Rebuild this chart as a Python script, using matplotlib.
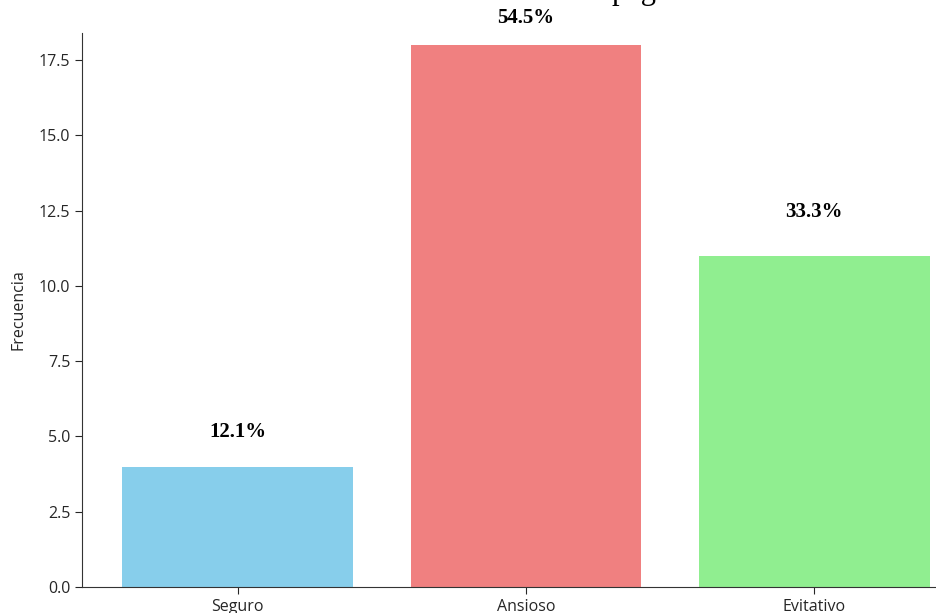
import matplotlib
matplotlib.use("Agg")
import matplotlib.pyplot as plt

categories = ["Seguro", "Ansioso", "Evitativo"]
frequencies = [4, 18, 11]
percent_labels = ["12.1%", "54.5%", "33.3%"]
label_offsets = [1.15, 0.9, 1.45]
colors = ["#87CEEB", "#F08080", "#90EE90"]
yticks = [0, 2.5, 5, 7.5, 10, 12.5, 15, 17.5]
title = "Gráfico de Estilo de apego"

W, H = 936, 613
fig = plt.figure(figsize=(W / 100, H / 100), dpi=100)
left, right, bottom, top = 82, 970, 587, 33
ax = fig.add_axes([left / W, (H - bottom) / H, (right - left) / W, (bottom - top) / H])

sans = ["Open Sans", "DejaVu Sans"]
tc = "#262626"
x = range(len(categories))
ax.bar(x, frequencies, color=colors, width=0.8)
ax.set_xticks(list(x))
ax.set_xticklabels(categories, fontsize=11.5, family=sans, color=tc)
ax.set_xlim(-0.54, 2.54)
ax.set_ylim(0, 18.4)
ax.set_yticks(yticks)
ax.set_yticklabels([f"{v:.1f}" for v in yticks], fontsize=11.5, family=sans, color=tc)
ax.tick_params(colors=tc, length=5)
ax.set_ylabel("Frecuencia", fontsize=11.5, family=sans, color=tc)
ax.yaxis.set_label_coords(-(left - 26) / (right - left), 0.5)
for s in ["top", "right"]:
    ax.spines[s].set_visible(False)
for s in ["left", "bottom"]:
    ax.spines[s].set_color("#333333")

for xi, v, lab, off in zip(x, frequencies, percent_labels, label_offsets):
    ax.text(xi, v + off, lab, ha="center", va="center", fontsize=15,
            fontweight="bold", family="Liberation Serif", clip_on=False)

fig.text(509 / W, 1 + 0.5 / H, title, ha="center", va="baseline",
         fontsize=22, family="Liberation Serif")

fig.savefig("out.png", dpi=100)
